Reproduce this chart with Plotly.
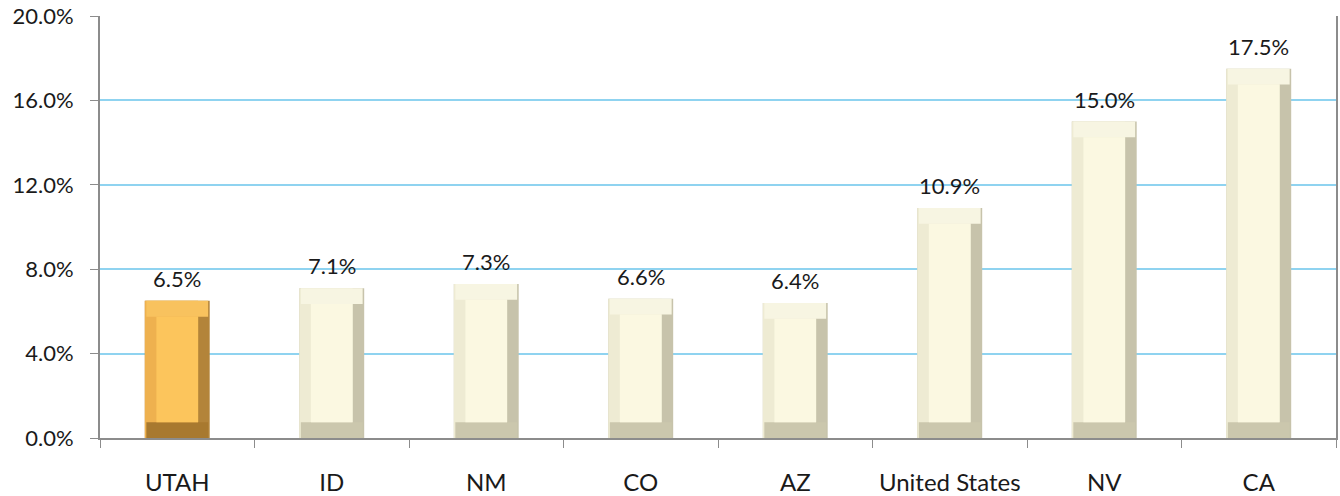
import plotly.graph_objects as go

categories = ["UTAH", "ID", "NM", "CO", "AZ", "United States", "NV", "CA"]
values = [6.5, 7.1, 7.3, 6.6, 6.4, 10.9, 15.0, 17.5]
labels = ["6.5%", "7.1%", "7.3%", "6.6%", "6.4%", "10.9%", "15.0%", "17.5%"]
highlight = "UTAH"

# palette: (right side, left side, bottom bevel, top bevel, face)
cream = ("#c7c3ab", "#eeebd3", "#cbc7ad", "#f7f5e2", "#fbf8e1")
gold = ("#b3843a", "#eeb14f", "#a8792f", "#f8c25e", "#fcc55c")

def pal(i):
    return [(gold if c == highlight else cream)[i] for c in categories]

W = 0.42   # bar width (category units)
S = 0.075  # side bevel width
B = 0.75   # top/bottom bevel height (y units)

FONT = "Lato, Open Sans, sans-serif"

fig = go.Figure()
common = dict(x=categories, hoverinfo="skip", showlegend=False, marker_line_width=0)
# full bar (dark right side)
fig.add_trace(go.Bar(y=values, width=W, offset=-W / 2, marker_color=pal(0), **common))
# lighter left portion
fig.add_trace(go.Bar(y=values, width=W - S, offset=-W / 2, marker_color=pal(1), **common))
# bottom bevel
fig.add_trace(go.Bar(y=[B for _ in values], width=W - 0.02, offset=-W / 2 + 0.01,
                     marker_color=pal(2), **common))
# top bevel
fig.add_trace(go.Bar(y=[B for _ in values], base=[v - B for v in values], width=W - 0.02,
                     offset=-W / 2 + 0.01, marker_color=pal(3), **common))
# face
fig.add_trace(go.Bar(y=[v - 2 * B for v in values], base=[B for _ in values],
                     width=W - 2 * S, offset=-W / 2 + S, marker_color=pal(4), **common))

for c, v, t in zip(categories, values, labels):
    fig.add_annotation(x=c, y=v, text=t, showarrow=False, yanchor="bottom", yshift=7,
                       font=dict(family=FONT, size=22, color="#1a1a1a"))

fig.update_layout(
    width=1340, height=496,
    margin=dict(l=100, r=4, t=16, b=58, autoexpand=False),
    paper_bgcolor="white", plot_bgcolor="white",
    barmode="overlay",
    font=dict(family=FONT, size=22, color="#1a1a1a"),
    xaxis=dict(
        type="category", showgrid=False, showline=True, linecolor="#8c8c8c", linewidth=2,
        ticks="outside", tickson="boundaries", ticklen=8, tickcolor="#8c8c8c",
        ticklabelstandoff=22, tickfont=dict(family=FONT, size=24), tickangle=0,
        automargin=False,
    ),
    yaxis=dict(
        range=[0, 20], dtick=4, tickformat=".1f", ticksuffix="%",
        showgrid=True, gridcolor="#8fd3f0", gridwidth=1.5,
        showline=True, linecolor="#8c8c8c", linewidth=2, mirror=True,
        ticks="outside", ticklen=8, tickcolor="#8c8c8c", ticklabelstandoff=12,
        zeroline=False, tickfont=dict(family=FONT, size=22), automargin=False,
    ),
)

fig.write_html("out.html", config={"displayModeBar": False},
               post_script="document.body.style.margin='0';")
